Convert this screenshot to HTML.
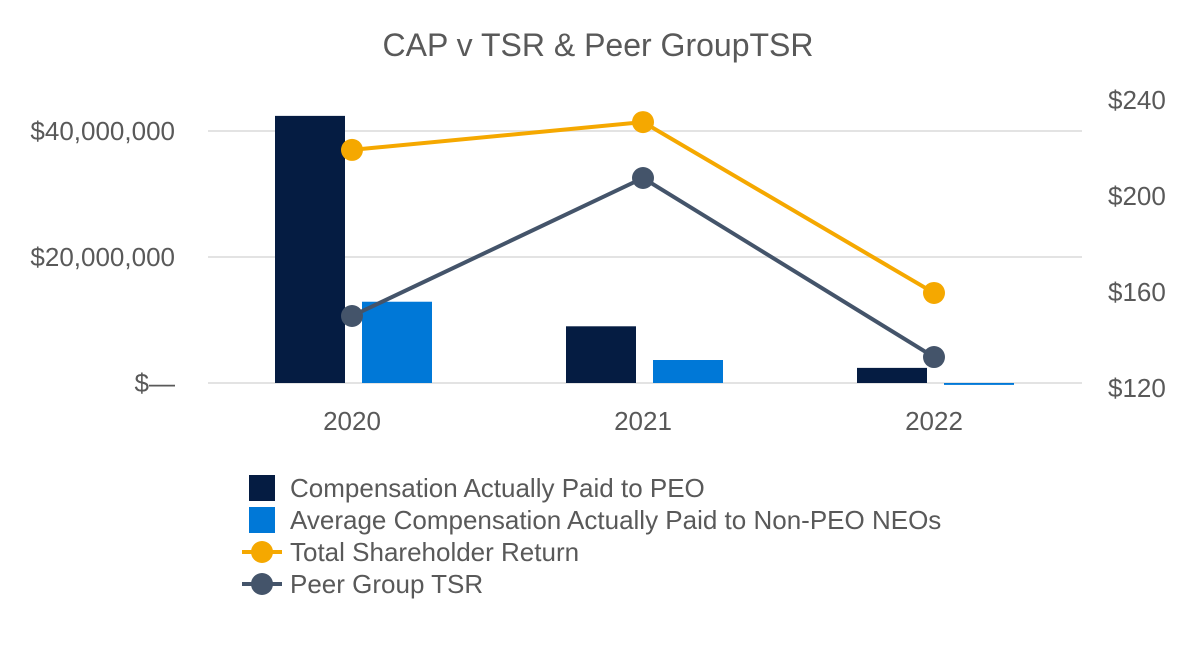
<!DOCTYPE html>
<html><head><meta charset="utf-8">
<style>
html,body{margin:0;padding:0;background:#fff;}
svg text{font-family:"Liberation Sans",Arial,sans-serif;}
</style></head>
<body>
<svg id="chart" width="1200" height="640" viewBox="0 0 1200 640" xmlns="http://www.w3.org/2000/svg">
<rect width="1200" height="640" fill="#fff"/>
<text x="598" y="56" text-anchor="middle" font-size="32" fill="#595959">CAP v TSR &amp; Peer GroupTSR</text>
<g id="grid"></g><g id="bars"></g><g id="lines"></g><g id="axes"></g><g id="legend"></g>
</svg>
<script>
const categories = ["2020","2021","2022"];
const pegCap = [42400000, 9000000, 2400000];
const neoCap = [12900000, 3650000, -300000];
const tsr = [219.2, 230.8, 159.6];
const peerTsr = [150.0, 207.5, 132.9];
const leftTicks = [0, 20000000, 40000000];
const leftTickLabels = ["$\u2014", "$20,000,000", "$40,000,000"];
const rightTicks = [120, 160, 200, 240];
const rightTickLabels = ["$120", "$160", "$200", "$240"];

const NS="http://www.w3.org/2000/svg";
const plotL=208, plotR=1082, band=291, x0=352-band/2-plotL;
const yL=v=>383-v/20000000*126;
const yR=v=>388-(v-120)*2.4;
const xC=i=>plotL+x0+band*(i+0.5);
function mk(tag,attrs,parent){const e=document.createElementNS(NS,tag);for(const k in attrs)e.setAttribute(k,attrs[k]);parent.appendChild(e);return e;}
const g=id=>document.getElementById(id);

leftTicks.forEach((t,i)=>{
  const l=mk('line',{x1:plotL,x2:plotR,y1:yL(t),y2:yL(t),stroke:'#e3e3e3','stroke-width':2},g('grid'));
  
  
  const tx=mk('text',{x:175,y:yL(t)+9,'text-anchor':'end','font-size':26,fill:'#595959'},g('axes'));
  tx.textContent=leftTickLabels[i];
  
  
});
rightTicks.forEach((t,i)=>{
  const tx=mk('text',{x:1108,y:yR(t)+9,'font-size':26,fill:'#595959'},g('axes'));
  tx.textContent=rightTickLabels[i];
  
  
});
categories.forEach((c,i)=>{
  const tx=mk('text',{x:xC(i),y:430,'text-anchor':'middle','font-size':26,fill:'#595959'},g('axes'));
  tx.textContent=c;
  
  
  const v1=pegCap[i], v2=neoCap[i];
  const b1=mk('rect',{x:xC(i)-77,width:70,y:Math.min(yL(v1),yL(0)),height:Math.max(Math.abs(yL(v1)-yL(0)),1),fill:'#051c42'},g('bars'));
  
  
  const b2=mk('rect',{x:xC(i)+10,width:70,y:Math.min(yL(v2),yL(0)),height:Math.max(Math.abs(yL(v2)-yL(0)),1.5),fill:'#0078d7'},g('bars'));
  
  
});
function series(vals,color,name){
  const p=mk('polyline',{points:vals.map((v,i)=>xC(i)+','+yR(v)).join(' '),fill:'none',stroke:color,'stroke-width':4},g('lines'));
  
  
  vals.forEach((v,i)=>{
    const c=mk('circle',{cx:xC(i),cy:yR(v),r:11,fill:color},g('lines'));
    
    
  });
}
series(peerTsr,'#44546a','peer-tsr');
series(tsr,'#f5a800','tsr');

const leg=[["Compensation Actually Paid to PEO","#051c42","box"],["Average Compensation Actually Paid to Non-PEO NEOs","#0078d7","box"],["Total Shareholder Return","#f5a800","line"],["Peer Group TSR","#44546a","line"]];
leg.forEach((L,i)=>{
  const y=488+i*32;
  if(L[2]==="box"){
    const r=mk('rect',{x:249,y:y-13,width:26,height:26,fill:L[1]},g('legend'));
    
    
  } else {
    const l=mk('line',{x1:242,x2:282,y1:y,y2:y,stroke:L[1],'stroke-width':4},g('legend'));
    
    
    const c=mk('circle',{cx:262,cy:y,r:11,fill:L[1]},g('legend'));
    
    
  }
  const t=mk('text',{x:290,y:y+9,'font-size':26,fill:'#595959'},g('legend'));
  t.textContent=L[0];
  
  
});
</script>
</body></html>
